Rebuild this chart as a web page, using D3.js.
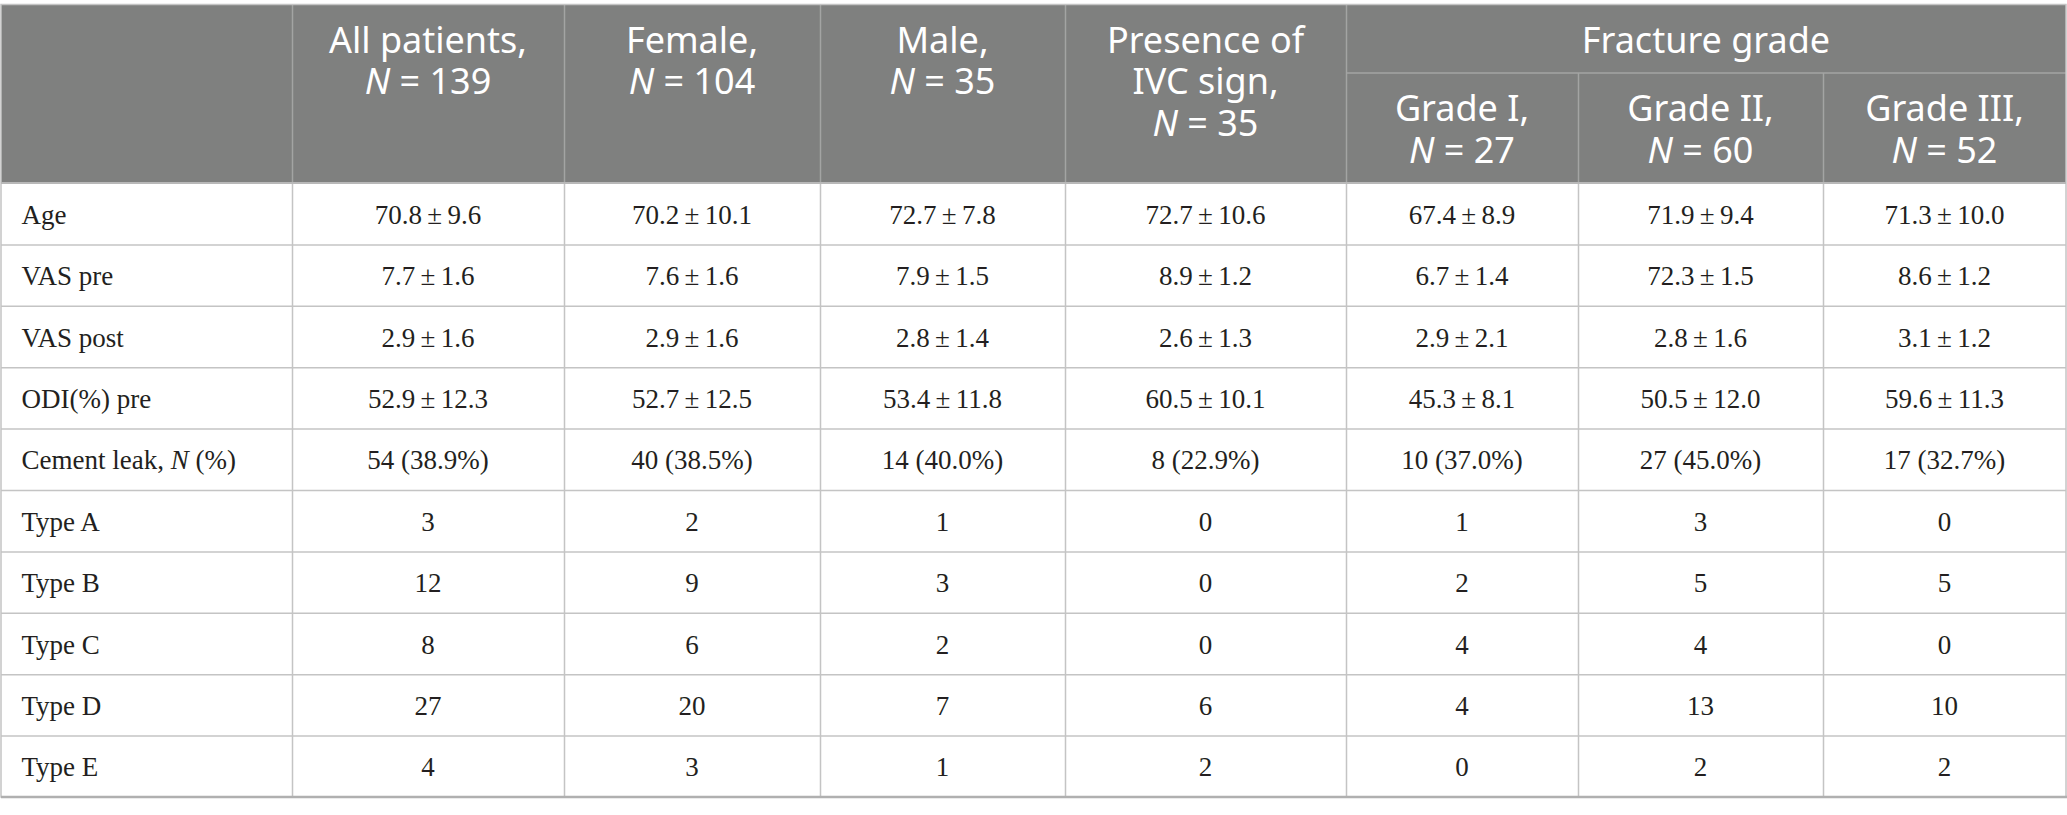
<!DOCTYPE html>
<html>
<head>
<meta charset="utf-8">
<script src="https://cdn.jsdelivr.net/npm/d3@7"></script>
<style>
  body { margin: 0; background: #fff; }
  svg { display: block; }
</style>
</head>
<body>
<div id="table"></div>
<script>
// Column headers (label lines, N)
const groupNames = ["All patients,", "Female,", "Male,", "Presence of|IVC sign,", "Grade I,", "Grade II,", "Grade III,"];
const groupN = [139, 104, 35, 35, 27, 60, 52];
const spanTitle = "Fracture grade";

// Row labels
const rowLabels = ["Age", "VAS pre", "VAS post", "ODI(%) pre", "Cement leak, N (%)",
    "Type A", "Type B", "Type C", "Type D", "Type E"];

// mean ± sd rows
const ageMean = [70.8, 70.2, 72.7, 72.7, 67.4, 71.9, 71.3];
const ageSd = [9.6, 10.1, 7.8, 10.6, 8.9, 9.4, 10.0];
const vasPreMean = [7.7, 7.6, 7.9, 8.9, 6.7, 72.3, 8.6];
const vasPreSd = [1.6, 1.6, 1.5, 1.2, 1.4, 1.5, 1.2];
const vasPostMean = [2.9, 2.9, 2.8, 2.6, 2.9, 2.8, 3.1];
const vasPostSd = [1.6, 1.6, 1.4, 1.3, 2.1, 1.6, 1.2];
const odiPreMean = [52.9, 52.7, 53.4, 60.5, 45.3, 50.5, 59.6];
const odiPreSd = [12.3, 12.5, 11.8, 10.1, 8.1, 12.0, 11.3];

// Cement leak counts and percentages
const leakN = [54, 40, 14, 8, 10, 27, 17];
const leakPct = [38.9, 38.5, 40.0, 22.9, 37.0, 45.0, 32.7];

// Leak types
const typeA = [3, 2, 1, 0, 1, 3, 0];
const typeB = [12, 9, 3, 0, 2, 5, 5];
const typeC = [8, 6, 2, 0, 4, 4, 0];
const typeD = [27, 20, 7, 6, 4, 13, 10];
const typeE = [4, 3, 1, 2, 0, 2, 2];

const pm = (m, s) => m.map((v, i) => `${v.toFixed(1)}\u2009±\u2009${s[i].toFixed(1)}`);
const cells = [
    pm(ageMean, ageSd),
    pm(vasPreMean, vasPreSd),
    pm(vasPostMean, vasPostSd),
    pm(odiPreMean, odiPreSd),
    leakN.map((v, i) => `${v} (${leakPct[i].toFixed(1)}%)`),
    typeA.map(String), typeB.map(String), typeC.map(String), typeD.map(String), typeE.map(String)
];

// Layout
const svgWidth = 2067, svgHeight = 815;
const x0 = 1, x1 = 2066, yTop = 5, yHead = 183, yEnd = 797, ySpan = 73;
const colWidths = [291, 272, 256, 245, 281, 232, 245, 243];
const edges = [x0, ...d3.cumsum(colWidths).map(d => d + x0)];
const headFill = "#7f807f";
const headLine = "#a3a4a3";
const bodyLine = "#c4c4c4";
const sans = "'Noto Sans', 'Open Sans', sans-serif";
const serif = "'Liberation Serif', 'DejaVu Serif', serif";
const lineGap = 41.5;

const svg = d3.select("#table").append("svg")
    .attr("width", svgWidth)
    .attr("height", svgHeight);

const yScale = d3.scaleBand()
    .domain(rowLabels)
    .range([yHead, yEnd]);

const xScale = d3.scaleOrdinal()
    .domain(d3.range(edges.length))
    .range(edges);

// Header background
svg.append("rect")
    .attr("x", x0).attr("y", yTop)
    .attr("width", x1 - x0).attr("height", yHead - yTop)
    .attr("fill", headFill);

// Body row lines
svg.append("g").selectAll("line")
    .data(rowLabels.slice(1))
    .join("line")
    .attr("x1", x0).attr("x2", x1)
    .attr("y1", d => yScale(d) + 0.5).attr("y2", d => yScale(d) + 0.5)
    .attr("stroke", bodyLine).attr("stroke-width", 1.5);

// Vertical lines
const inner = d3.range(1, edges.length - 1);
svg.append("g").selectAll("line")
    .data(inner)
    .join("line")
    .attr("x1", i => xScale(i) + 0.5).attr("x2", i => xScale(i) + 0.5)
    .attr("y1", yHead)
    .attr("y2", yEnd)
    .attr("stroke", bodyLine).attr("stroke-width", 1.5);

// Header inner lines drawn over the grey
svg.append("g").selectAll("line")
    .data(inner)
    .join("line")
    .attr("x1", i => xScale(i) + 0.5).attr("x2", i => xScale(i) + 0.5)
    .attr("y1", i => i >= 6 ? ySpan : yTop)
    .attr("y2", yHead)
    .attr("stroke", headLine).attr("stroke-width", 1.5);

svg.append("line")
    .attr("x1", xScale(5)).attr("x2", x1)
    .attr("y1", ySpan).attr("y2", ySpan)
    .attr("stroke", headLine).attr("stroke-width", 1.5);

// Outer border
svg.append("rect")
    .attr("x", x0).attr("y", yTop - 0.5)
    .attr("width", x1 - x0).attr("height", yEnd - yTop + 0.5)
    .attr("fill", "none")
    .attr("stroke", bodyLine).attr("stroke-width", 1.5);

svg.append("line")
    .attr("x1", x0).attr("x2", x1 + 1)
    .attr("y1", yEnd).attr("y2", yEnd)
    .attr("stroke", "#b0b0b0").attr("stroke-width", 2.5);

svg.append("line")
    .attr("x1", x0).attr("x2", x1)
    .attr("y1", yHead).attr("y2", yHead)
    .attr("stroke", "#b8b8b8").attr("stroke-width", 2);

// Header text
const centre = i => (xScale(i + 1) + xScale(i + 2)) / 2;
const head = svg.append("g")
    .attr("text-anchor", "middle")
    .attr("font-family", sans)
    .attr("font-size", 36)
    .attr("fill", "#fff");

groupNames.forEach((name, i) => {
    const lines = name.split("|");
    const baseY = i >= 4 ? 121 : 52.7;
    lines.forEach((ln, k) => {
        head.append("text")
            .attr("x", centre(i))
            .attr("y", baseY + k * lineGap)
            .text(ln);
    });
    const nLine = head.append("text")
        .attr("x", centre(i))
        .attr("y", baseY + lines.length * lineGap);
    nLine.append("tspan").attr("font-style", "italic").text("N");
    nLine.append("tspan").text(` = ${groupN[i]}`);
});

head.append("text")
    .attr("x", (xScale(5) + x1) / 2)
    .attr("y", 52.7)
    .text(spanTitle);

// Row labels
const body = svg.append("g")
    .attr("font-family", serif)
    .attr("font-size", 27)
    .attr("fill", "#231f20");

rowLabels.forEach(lab => {
    const t = body.append("text")
        .attr("x", 21.5)
        .attr("y", yScale(lab) + yScale.bandwidth() / 2 + 10);
    if (lab.includes(", N")) {
        const parts = lab.split("N");
        t.append("tspan").text(parts[0]);
        t.append("tspan").attr("font-style", "italic").text("N");
        t.append("tspan").text(parts[1]);
    } else {
        t.text(lab);
    }
});

// Body cells
rowLabels.forEach((lab, r) => {
    body.append("g").selectAll("text")
        .data(cells[r])
        .join("text")
        .attr("x", (d, i) => centre(i))
        .attr("y", yScale(lab) + yScale.bandwidth() / 2 + 10)
        .attr("text-anchor", "middle")
        .text(d => d);
});
</script>
</body>
</html>
